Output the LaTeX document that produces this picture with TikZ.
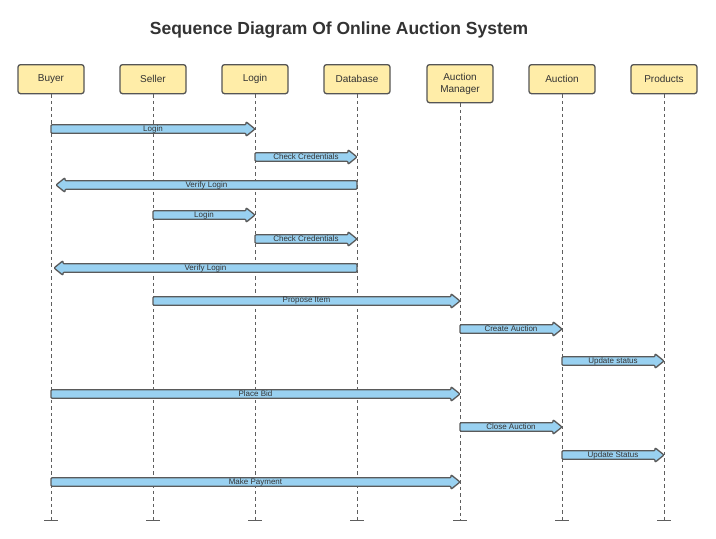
\documentclass[tikz,border=0pt]{standalone}
\usepackage{fontspec}
\setmainfont{Liberation Sans}
\usetikzlibrary{calc}
\definecolor{boxfill}{HTML}{FFEDA8}
\definecolor{boxline}{HTML}{555555}
\definecolor{txt}{HTML}{333333}
\definecolor{arrfill}{HTML}{99D1F1}
\definecolor{arrline}{HTML}{5A5A5A}
\definecolor{lifegray}{HTML}{5E5E5E}
\tikzset{
  actor/.style={draw=boxline, fill=boxfill, line width=1.3pt, rounded corners=2.5pt,
    minimum width=66pt, minimum height=29pt, inner sep=1pt, text=txt,
    font=\fontsize{10}{12}\selectfont, align=center, anchor=north},
  lifeline/.style={draw=lifegray, line width=1pt, dash pattern=on 3.5pt off 3pt},
  lifetick/.style={draw=lifegray, line width=1pt},
  blockarrow/.style={draw=arrline, fill=arrfill, line width=1.3pt, line join=round, rounded corners=1pt},
  msglabel/.style={text=txt, font=\fontsize{8}{9}\selectfont, inner sep=0pt},
  title/.style={text=txt, font=\fontsize{17.5}{20}\selectfont\bfseries}
}
% \msg[tip inset]{label name}{from node}{to node}{y}{label}
\newcommand\msg[6][0]{%
  \path let \p1=(#3 |- 0,#5), \p2=($(#4 |- 0,#5)+(#1,0)$),
            \n1={ifthenelse(\x2>\x1,1,-1)} in
    [blockarrow] (\x1,\y1+4.3pt) -- (\x2-\n1*9pt,\y1+4.3pt) -- (\x2-\n1*9pt,\y1+7.3pt)
      -- (\x2,\y1) -- (\x2-\n1*9pt,\y1-7.3pt) -- (\x2-\n1*9pt,\y1-4.3pt)
      -- (\x1,\y1-4.3pt) -- cycle
    node[msglabel] (#2) at (\x1/2+\x2/2,\y1) {#6};%
}
\begin{document}
\begin{tikzpicture}[x=1pt,y=1pt]
\useasboundingbox (0,0) rectangle (716,-539);
\node[title] (title) at (339,-30) {Sequence Diagram Of Online Auction System};
% actors
\node[actor] (buyer)    at (51,-64)  {Buyer};
\node[actor] (seller)   at (153,-64) {Seller};
\node[actor] (login)    at (255,-64) {Login};
\node[actor] (database) at (357,-64) {Database};
\node[actor, minimum height=38pt] (manager) at (460,-64) {Auction\\Manager};
\node[actor] (auction)  at (562,-64) {Auction};
\node[actor] (products) at (664,-64) {Products};
% lifelines
\foreach \a in {buyer,seller,login,database,manager,auction,products}{
  \draw[lifeline] (\a.south) -- (\a.south |- 0,-520) coordinate (\a end);
  \draw[lifetick] ([xshift=-7pt]\a end) -- ([xshift=7pt]\a end);
}
% messages
\msg{m1}{buyer}{login}{-129}{Login}
\msg{m2}{login}{database}{-157}{Check Credentials}
\msg[5]{m3}{database}{buyer}{-185}{Verify Login}
\msg{m4}{seller}{login}{-215}{Login}
\msg{m5}{login}{database}{-239}{Check Credentials}
\msg[3]{m6}{database}{buyer}{-268}{Verify Login}
\msg{m7}{seller}{manager}{-301}{Propose Item}
\msg{m8}{manager}{auction}{-329}{Create Auction}
\msg{m9}{auction}{products}{-361}{Update status}
\msg{m10}{buyer}{manager}{-394}{Place Bid}
\msg{m11}{manager}{auction}{-427}{Close Auction}
\msg{m12}{auction}{products}{-455}{Update Status}
\msg{m13}{buyer}{manager}{-482}{Make Payment}
\end{tikzpicture}
\end{document}
